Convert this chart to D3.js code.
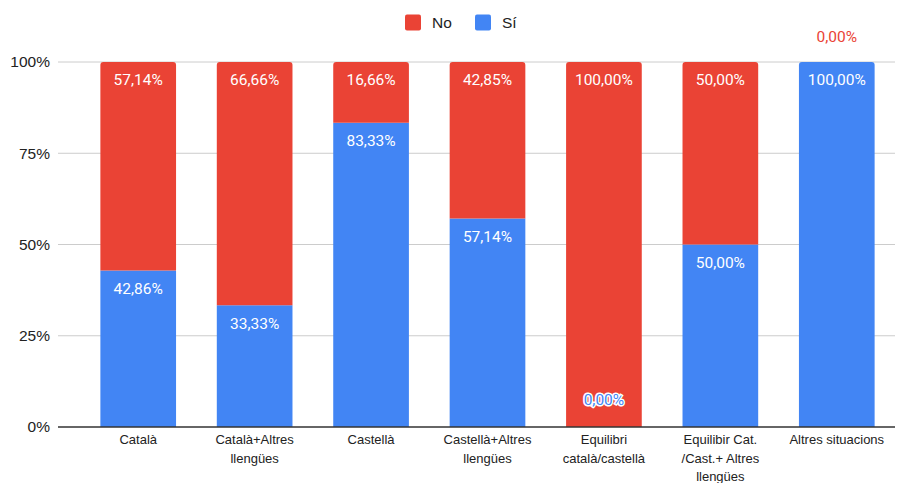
<!DOCTYPE html>
<html>
<head>
<meta charset="utf-8">
<script src="https://cdn.jsdelivr.net/npm/d3@7"></script>
<style>
  html, body { margin: 0; padding: 0; background: #fff; }
  svg { display: block; font-family: "Liberation Sans", Arial, sans-serif; }
  .val { font-family: Roboto, Arial, sans-serif; }
</style>
</head>
<body>
<svg id="chart" width="903" height="483"></svg>
<script>
// Categories (x-axis labels, split into lines)
const categories = [
  ["Català"],
  ["Català+Altres", "llengües"],
  ["Castellà"],
  ["Castellà+Altres", "llengües"],
  ["Equilibri", "català/castellà"],
  ["Equilibir Cat.", "/Cast.+ Altres", "llengües"],
  ["Altres situacions"]
];
// Percentages per series
const siValues = [42.86, 33.33, 83.33, 57.14, 0.00, 50.00, 100.00];
const noValues = [57.14, 66.66, 16.66, 42.85, 100.00, 50.00, 0.00];
const yTicks = [0, 25, 50, 75, 100];
const seriesNames = ["No", "Sí"];
const seriesColors = { "No": "#EA4335", "Sí": "#4285F4" };

const svg = d3.select("#chart");
const plotLeft = 58, plotRight = 895, plotTop = 62, plotBottom = 427;

const x = d3.scaleBand()
  .domain(d3.range(categories.length))
  .range([80, plotRight])
  .paddingInner(0.35)
  .paddingOuter(0.175);
const y = d3.scaleLinear().domain([0, 100]).range([plotBottom, plotTop]);

const fmt = v => v.toFixed(2).replace(".", ",") + "%";

// Gridlines and y tick labels
const grid = svg.append("g");
grid.selectAll("line").data(yTicks.filter(t => t > 0)).join("line")
  .attr("x1", plotLeft).attr("x2", plotRight)
  .attr("y1", d => y(d)).attr("y2", d => y(d))
  .attr("stroke", "#cccccc").attr("stroke-width", 1);
svg.append("g").selectAll("text").data(yTicks).join("text")
  .attr("x", 50).attr("y", d => y(d)).attr("dy", "0.35em")
  .attr("text-anchor", "end").attr("font-size", 15.5).attr("fill", "#222")
  .text(d => d + "%");

// Stacked bars: Sí at the bottom, No on top
const rows = categories.map((c, i) => ({ i, si: siValues[i], no: noValues[i] }));
const stack = d3.stack().keys(["si", "no"])(rows);
const keyName = { si: "Sí", no: "No" };

function roundedTop(x0, y0, w, h, r) {
  r = Math.min(r, h, w / 2);
  return `M${x0},${y0 + h}V${y0 + r}Q${x0},${y0} ${x0 + r},${y0}H${x0 + w - r}Q${x0 + w},${y0} ${x0 + w},${y0 + r}V${y0 + h}Z`;
}

stack.forEach(layer => {
  const g = svg.append("g");
  g.selectAll("path").data(layer).join("path")
    .attr("fill", seriesColors[keyName[layer.key]])
    .attr("d", d => {
      const yTop = y(d[1]), yBot = y(d[0]);
      const isTop = layer.key === "no" || d.data.no === 0;
      const w = x.bandwidth();
      if (yBot - yTop <= 0) return "";
      if (isTop) return roundedTop(x(d.data.i), yTop, w, yBot - yTop, 3);
      return `M${x(d.data.i)},${yTop}h${w}V${yBot}h${-w}Z`;
    });
});

// Value labels
stack.forEach(layer => {
  const name = keyName[layer.key];
  const g = svg.append("g").attr("class", "val").attr("font-size", 15.5).attr("text-anchor", "middle");
  layer.forEach(d => {
    const v = d.data[layer.key];
    const cx = x(d.data.i) + x.bandwidth() / 2;
    if (v > 0) {
      g.append("text").attr("x", cx).attr("y", y(d[1]) + 18).attr("dy", "0.35em")
        .attr("fill", "#ffffff").text(fmt(v));
    } else if (layer.key === "si") {
      // zero-height segment: label with halo near the baseline
      g.append("text").attr("x", cx).attr("y", y(0) - 27).attr("dy", "0.35em")
        .attr("fill", seriesColors[name]).attr("stroke", "#ffffff")
        .attr("stroke-width", 3).attr("paint-order", "stroke").text(fmt(v));
    } else {
      g.append("text").attr("x", cx).attr("y", y(d[1]) - 25).attr("dy", "0.35em")
        .attr("fill", seriesColors[name]).text(fmt(v));
    }
  });
});

// Baseline
svg.append("line").attr("x1", plotLeft).attr("x2", plotRight)
  .attr("y1", y(0)).attr("y2", y(0)).attr("stroke", "#333").attr("stroke-width", 1.5);

// X-axis labels
const xl = svg.append("g").attr("font-size", 13).attr("fill", "#222").attr("text-anchor", "middle");
categories.forEach((lines, i) => {
  const cx = x(i) + x.bandwidth() / 2;
  const t = xl.append("text").attr("x", cx).attr("y", 444);
  lines.forEach((ln, k) => {
    t.append("tspan").attr("x", cx).attr("dy", k === 0 ? 0 : 18.5).text(ln);
  });
});

// Legend
const legend = svg.append("g").attr("font-size", 15.5).attr("fill", "#222");
const legendX = [405, 475];
seriesNames.forEach((n, k) => {
  legend.append("rect").attr("x", legendX[k]).attr("y", 14.5).attr("width", 16).attr("height", 16)
    .attr("rx", 2).attr("fill", seriesColors[n]);
  legend.append("text").attr("x", legendX[k] + 27).attr("y", 23).attr("dy", "0.35em").text(n);
});
</script>
</body>
</html>
